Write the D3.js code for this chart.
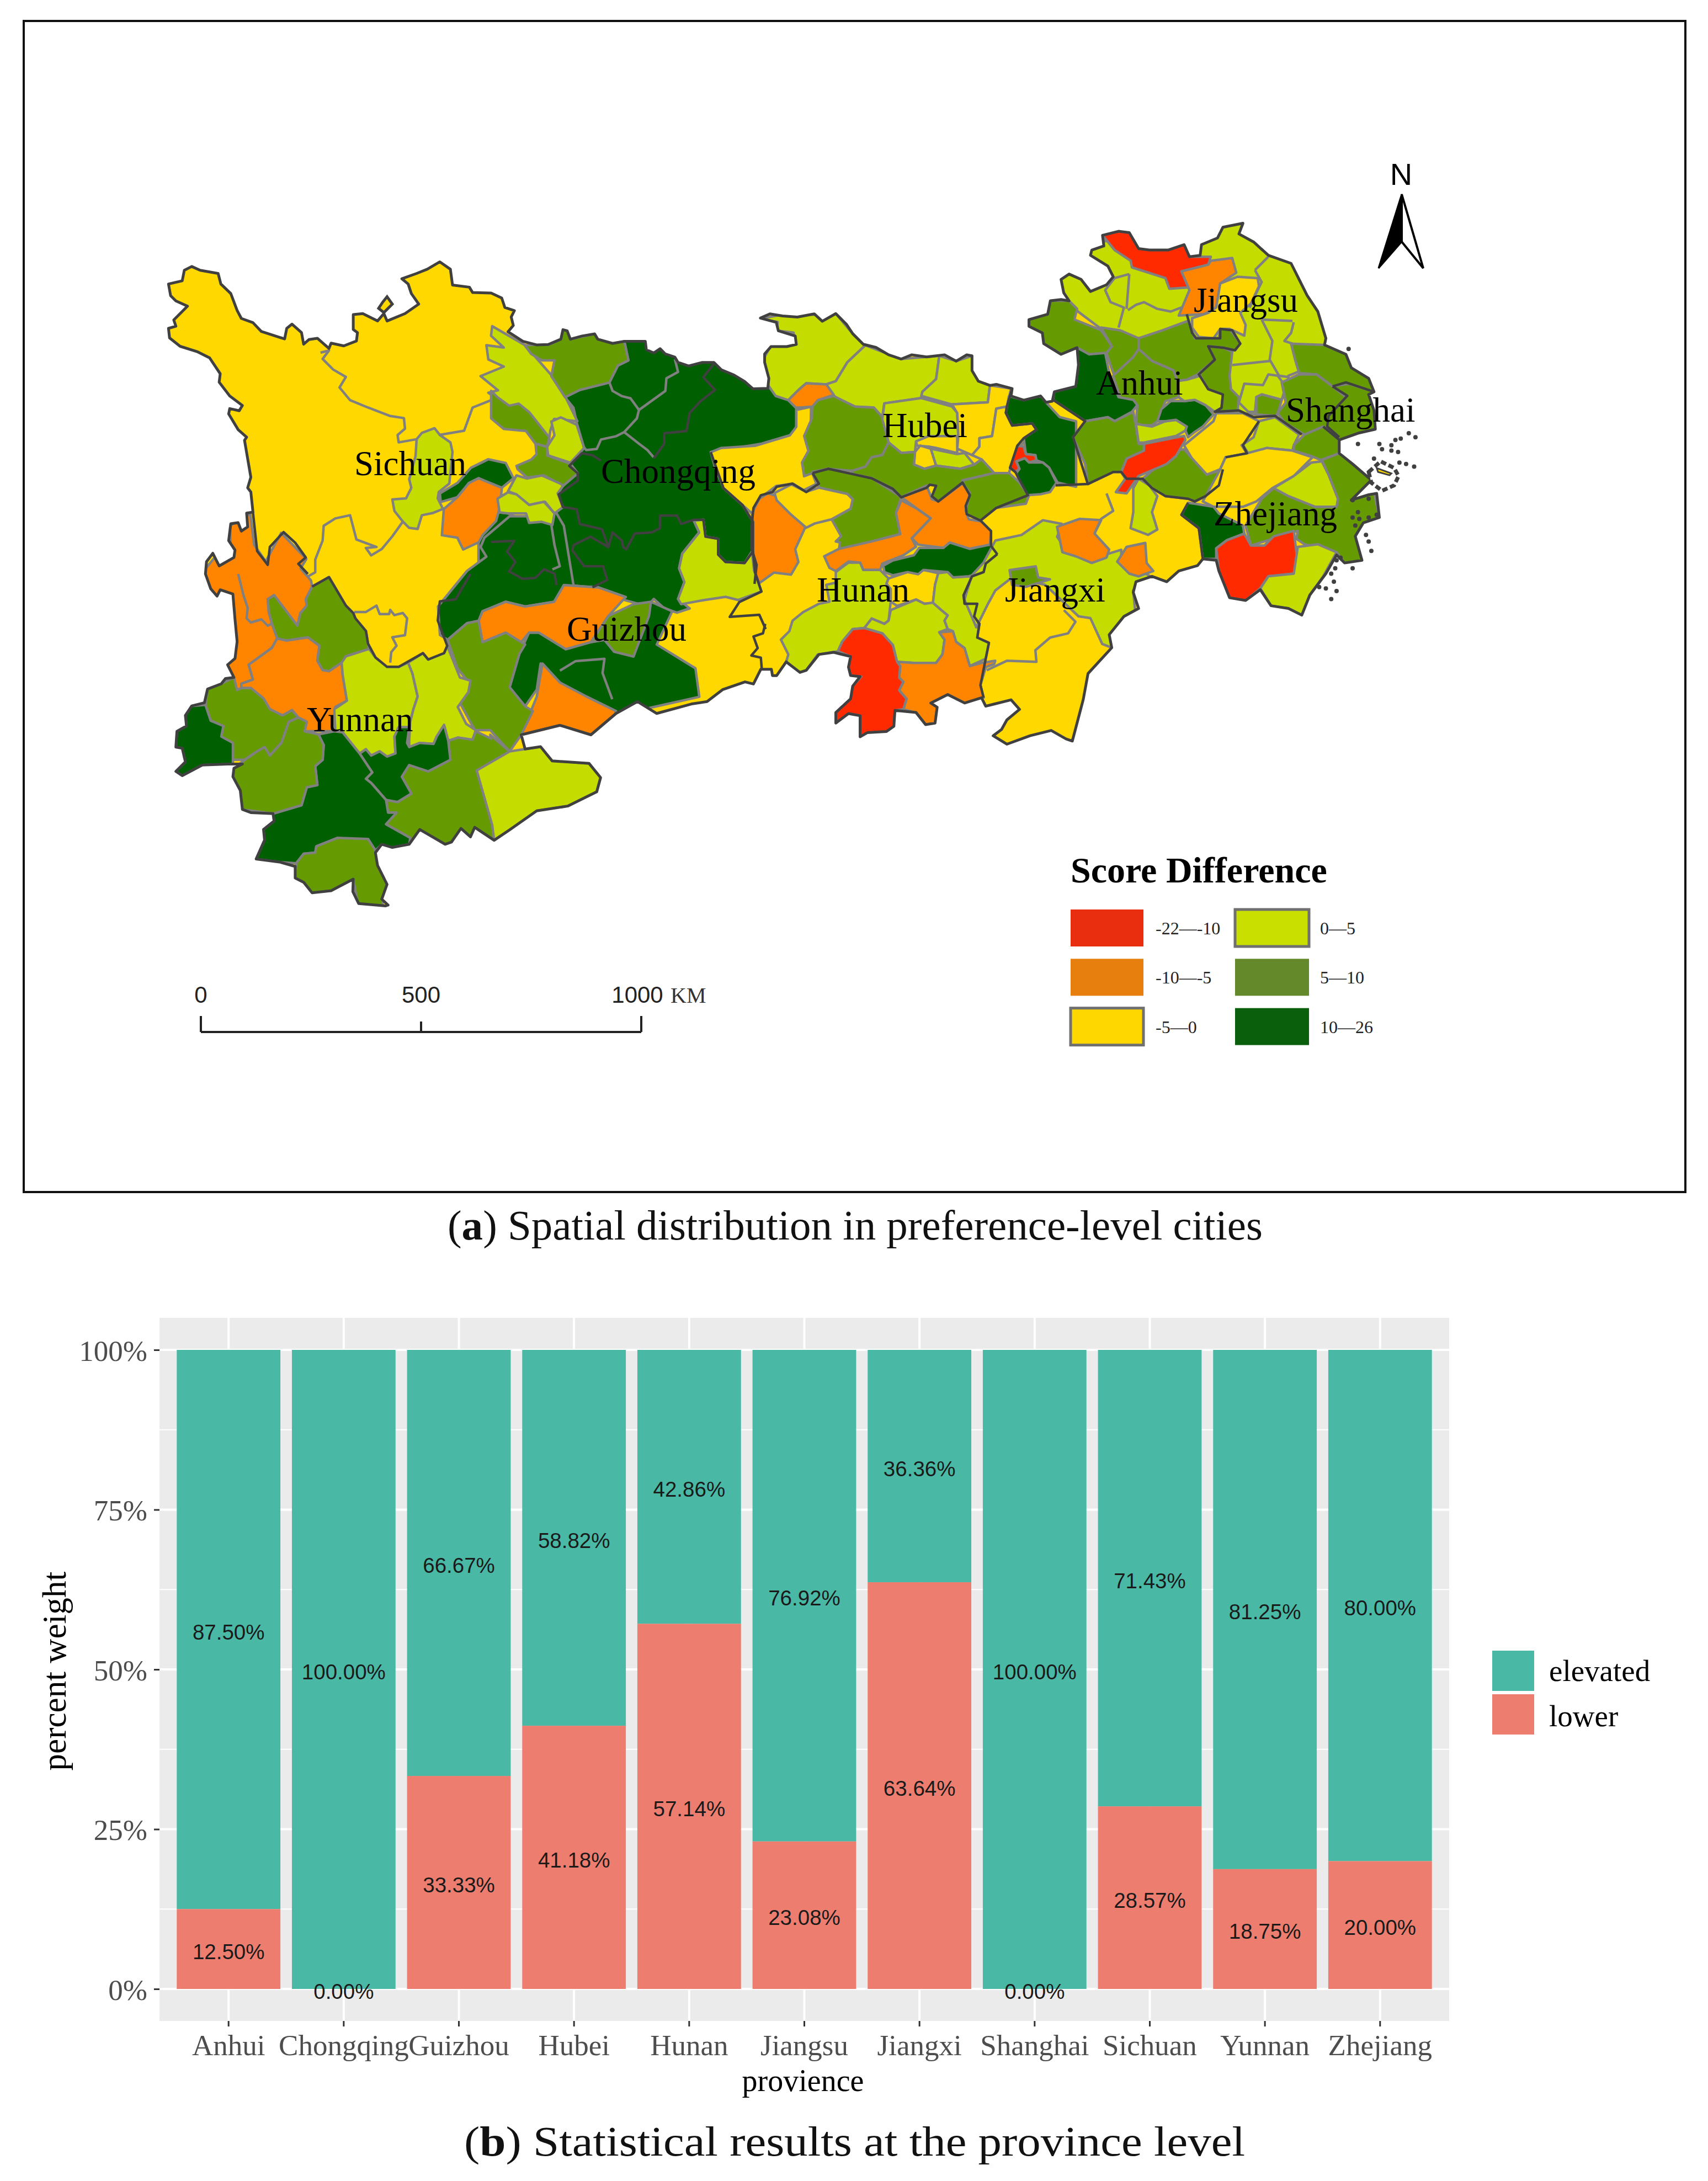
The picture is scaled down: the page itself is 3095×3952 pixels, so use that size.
<!DOCTYPE html>
<html><head><meta charset="utf-8"><title>Score difference</title>
<script src="https://cdn.jsdelivr.net/npm/d3@7/dist/d3.min.js"></script>
<style>html,body{margin:0;padding:0;background:#fff}svg{display:block}text{font-family:"Liberation Serif",serif}</style></head><body>
<script>
// ---------- bar chart data ----------
const provinces=["Anhui","Chongqing","Guizhou","Hubei","Hunan","Jiangsu","Jiangxi","Shanghai","Sichuan","Yunnan","Zhejiang"];
const lowerPct=[12.50,0.00,33.33,41.18,57.14,23.08,63.64,0.00,28.57,18.75,20.00];
const elevatedPct=[87.50,100.00,66.67,58.82,42.86,76.92,36.36,100.00,71.43,81.25,80.00];
const yTicks=[0,25,50,75,100];
const yMinor=[12.5,37.5,62.5,87.5];
const barLegend=["elevated","lower"];
// ---------- map legend / labels ----------
const classKeys=["r","o","y","l","g","d"];
const mapFills=["#FF2A00","#FF8500","#FFD800","#C5DC00","#659B00","#005F00"];
const legendFills=["#E92D0F","#E67F0E","#FFD700","#C8DF00","#63892B","#0A5F0C"];
const legendLabels=["-22—-10","-10—-5","-5—0","0—5","5—10","10—26"];
const scaleKm=[0,500,1000];
const provinceLabels=[["Sichuan",642,861],["Chongqing",1089,875],["Guizhou",1027,1161],["Yunnan",556,1325],["Hubei",1599,792],["Hunan",1480,1090],["Jiangxi",1821,1090],["Jiangsu",2163,565],["Anhui",1986,715],["Shanghai",2330,764],["Zhejiang",2199,952]];
// ---------- map geometry: each path is made of [sheet,[x,y,...]] ----------
const sheets={A:[290,440,600,600],B:[290,1040,600,600],C:[890,540,600,600],D:[1350,530,600,600],E:[1350,830,600,600],F:[1850,390,760,760],G:[250,350,1100,1350],H:[1300,350,1350,1050]};
const outerBoundary=[
["A",[40,195,105,180,115,130,150,112,190,130,275,145,288,195,335,240,365,320,385,358,440,378,480,420,590,455,600,405,625,385,670,425,680,480,705,458,745,452,800,500,810,475,870,488,930,465,935,425,915,410,915,340,960,335,1030,370,1060,335,1075,370,1160,335,1225,290,1190,240,1175,195,1145,170,1215,145,1265,125,1325,90,1375,125,1385,200,1465,210,1480,235,1568,238]],
["C",[50,0,65,45,110,60,95,90,105,130,80,160,150,205,215,222,270,220,330,195,340,150,360,155,375,195,430,180,490,170,505,195,575,215,630,205,730,205,735,245,770,260,800,240,825,265,870,280,885,305,935,322,1000,305,1055,305,1090,340,1150,365,1200,395,1240,430,1310,428,1315,380,1295,305,1295,265,1325,230,1400,230,1445,220,1440,180,1360,155,1350,115,1275,95,1320,75,1380,85,1450,90,1530,75,1568,110]],
["D",[430,100,480,150,510,195,560,245,620,260,680,295,740,315,790,295,860,305,945,295,1000,325,1050,295,1075,300,1075,370,1105,420,1160,440,1190,435,1265,455,1260,490,1320,510,1400,490,1425,520,1455,515]],
["F",[125,660,205,640,215,560,210,495,150,520,85,480,80,440,30,415,30,390,100,370,110,320,150,315,180,320,160,290,150,240,180,220,225,240,260,285,320,260,345,230,325,190,260,150,265,130,310,115,305,75,365,60,405,65,440,125,480,130,550,130,610,110,630,155,670,150,675,110,735,85,755,45,830,30,815,70,870,100,925,150,1010,180,1070,300,1110,360,1140,460,1135,485,1215,520,1235,570,1300,610,1320,660,1300,670,1320,730,1325,800,1260,815,1190,840,1190,890,1240,930,1310,990,1235,1065,1300,1045,1330,1040,1340,1130,1280,1150,1250,1200,1275,1290,1210,1300,1180,1270,1140,1340,1080,1420,1050,1495,1000,1470,935,1460,895,1400,840,1440,780,1430,740,1330,730,1290,680,1285,660,1310,590,1330,545,1370,490,1350,430,1370,420,1410,440,1470,385,1500,330,1568]],
["H",[830,1230,780,1300,770,1370]],
["E",[1550,1340,1520,1330,1450,1290,1350,1315,1240,1355,1175,1315,1215,1285,1240,1240,1300,1190,1260,1145,1180,1165,1140,1175,1120,1135,1040,1160,960,1120,880,1160,910,1180,900,1255,855,1262,810,1205,710,1195,705,1270,670,1295,580,1300,545,1320,545,1220,490,1210,430,1255,430,1205,500,1140,510,1080,545,1035,500,1030,490,990,500,940,420,920,350,930,290,1005,260,1015,195,965,150,1030,130,1030,125,1000,75,1000,40,1070,0,1060]],
["G",[1510,1045,1470,1070,1430,1075,1340,1095,1290,1070,1235,1095,1170,1140,1090,1120,990,1140,1000,1170,1040,1165,1070,1195,1165,1200,1195,1230,1185,1260,1110,1290,1030,1300,960,1340,920,1362]],
["B",[1490,1200,1470,1245,1425,1205,1380,1270,1350,1280,1230,1210,1180,1280,1100,1295,1050,1280,1020,1320,1030,1380,1075,1470,1050,1540,1080,1568]],
["G",[640,1500,570,1495,555,1470]],
["B",[915,1445,810,1500,720,1510,680,1460,640,1440,640,1385,570,1365,455,1350,495,1260,490,1210,540,1170,535,1135,430,1130,390,1115,380,1025,345,960,350,920,390,900,320,900,200,905,105,955,75,935,120,890,105,825,75,820,80,745,125,720,120,670,150,625,210,610,225,545,290,520,310,495,350,490,320,430,355,400,365,320,355,215,345,95,285,75,270,105,240,70,215,0]],
["A",[220,1510,250,1470,280,1530,350,1490,355,1455,325,1410,335,1330,370,1325,385,1365,415,1345,410,1280,440,1275,430,1180,415,1160,430,1110,400,935,410,920,370,885,325,810,330,785,375,795,390,770,330,725,280,660,285,620,235,545,175,515,95,490,45,450,40,405,75,395,65,365,130,300,75,275,50,250]]
];
const sichuanIsland=[["A",[1035,310,1055,280,1075,255,1100,290,1060,330]]];
const mapRegions=[
["d",[["C",[630,200,800,200,1060,290,1310,420,1445,500,1445,620,1415,650,1280,690,1040,730,1060,800,1100,900,1190,980,1240,1060,1240,1200,1200,1255,1110,1250,1075,1215,1070,1140,1015,1130,1005,1050,960,1055,985,1110,905,1210,890,1280,915,1345,885,1425,940,1470,880,1490,820,1470,770,1425,740,1460,630,1430,470,1370,330,1355,300,1420,210,1460,50,1465,0,1430,-60,1300,-60,1000,40,1015,80,1020,180,1065,290,1075,300,1020,340,990,315,925,340,890,410,830,375,785,440,710,405,590,390,520,350,470,420,435,560,400,600,320,650,295]]]],
["d",[["G",[885,745,895,725,960,680,1015,680,1075,665,1100,700,1130,850,1260,850,1190,830,1100,825,1075,860,1000,870,950,860,890,880,880,900,850,905,800,940,780,930,775,870,850,795,900,765]]]],
["y",[["C",[1040,730,1090,710,1250,700,1415,650,1445,610,1445,530,1515,515,1510,800,1540,880,1480,910,1430,880,1350,890,1310,920,1270,950,1235,1020,1190,980,1100,900,1060,800]]]],
["l",[["A",[1215,930,1240,900,1300,878,1325,910,1375,945,1385,990,1370,1140,1320,1180,1315,1210,1340,1260,1290,1280,1240,1290,1220,1355,1180,1350,1150,1320,1110,1270,1100,1215,1165,1210,1190,1160,1180,1120,1210,1010]]]],
["d",[["G",[970,600,950,568,905,560,860,578,825,610,780,632,782,650,825,640,855,610,880,600,925,620,940,620]]]],
["o",[["G",[940,620,880,600,855,610,825,640,790,665,785,720,825,725,840,750,880,735,890,720,925,690,935,660]]]],
["l",[["G",[915,280,1000,320,1070,385,1105,430,1135,480,1075,475,1065,500,1060,530,1020,510,990,460,940,440,905,420,930,415,885,385,945,365,905,350,900,320,945,325,912,300]]]],
["l",[["C",[330,565,405,600,440,710,375,780,270,745,265,705,300,650,285,585]]]],
["g",[["C",[0,440,30,470,85,510,130,500,180,540,275,660,265,705,210,690,165,630,60,620,0,570]]]],
["g",[["C",[210,690,265,705,265,745,375,785,410,830,340,890,250,840,170,850,125,810,120,795,190,765,215,740]]]],
["l",[["C",[120,840,170,855,240,840,330,880,340,890,315,925,340,990,300,1020,255,965,180,980,120,930,80,915]]]],
["l",[["C",[30,950,80,920,120,930,180,980,250,965,300,1020,290,1075,240,1060,180,1065,165,1020,80,1020,40,1015]]]],
["g",[["C",[160,225,215,220,275,220,330,195,340,150,360,155,375,195,490,170,505,195,630,205,650,295,600,320,560,400,420,435,350,470,285,370,300,295,240,295,190,265]]]],
["l",[["C",[960,1055,1005,1050,1015,1130,1075,1140,1075,1215,1110,1250,1200,1255,1235,1200,1245,1290,1280,1390,1170,1430,1110,1415,1010,1430,900,1450,885,1425,915,1345,890,1280,905,1210,985,1110]]]],
["o",[["C",[1235,1020,1270,950,1310,925,1345,935,1370,970,1440,1030,1490,1080,1440,1190,1455,1250,1420,1310,1340,1300,1270,1350,1245,1290,1240,1200,1240,1060]]]],
["o",[["G",[880,900,890,945,950,925,990,945,1010,925,1035,925,1105,960,1170,945,1215,890,1260,850,1190,830,1100,825,1075,860,1000,870,950,860,890,880]]]],
["d",[["G",[1010,925,1035,925,1105,960,1170,945,1205,940,1230,965,1280,975,1325,860,1380,880,1340,950,1440,1000,1450,1060,1230,1100,1170,1140,1040,990,1030,1045,1000,1080,960,1040,985,970]]]],
["g",[["G",[1215,890,1280,865,1325,860,1320,890,1280,975,1230,965,1205,940,1170,945]]]],
["o",[["G",[1045,990,1090,1030,1160,1060,1235,1090,1230,1100,1170,1140,1090,1120,990,1140,1030,1060]]]],
["g",[["G",[800,940,850,905,880,900,890,945,950,925,990,945,1000,950,985,970,960,1040,1000,1080,1020,1090,990,1140,960,1175,910,1130,870,1130,830,1070,855,1030,825,1000]]]],
["o",[["G",[175,790,205,760,240,770,238,700,290,675,300,740,330,775,370,715,435,770,420,790,447,815]],["B",[720,60,690,120,695,150,665,185,650,245,540,100,510,120,515,180,530,235,555,305,530,350,420,430,440,500,385,520,390,550,365,550,300,550,200,100]]]],
["o",[["B",[555,305,600,315,700,300,755,340,745,410,770,455,800,460,860,420,865,480,885,600,830,630,825,745,685,745,695,700,655,680,625,645,580,670,520,640,490,590,430,540,385,540,385,520,440,500,420,430,530,350]]]],
["g",[["B",[720,60,800,15,880,150,915,185,925,210,975,270,985,330,990,355,880,390,860,420,800,460,770,455,745,410,755,340,700,300,600,315,555,305,530,235,515,180,510,120,540,100,650,245,665,185,695,150,690,120]]]],
["l",[["B",[860,420,880,390,990,355,1020,395,1075,440,1130,440,1175,420,1195,470,1220,580,1200,640,1185,700,1180,790,1110,770,1115,850,1075,865,1040,840,1000,860,975,830,945,850,890,790,865,750,830,745,825,640,885,600,865,480]]]],
["l",[["B",[1175,420,1245,375,1270,405,1345,375,1360,340,1420,490,1470,505,1460,560,1410,630,1450,710,1495,740,1480,785,1410,775,1365,790,1345,715,1310,770,1295,805,1230,800,1180,820,1180,790,1185,700,1200,640,1220,580,1195,470]]]],
["g",[["B",[1125,1080,1190,1040,1145,960,1180,905,1270,935,1375,880,1365,790,1410,775,1480,785,1495,745,1568,780]],["G",[910,1140,960,1175,875,1215,915,1330,925,1380,780,1400,650,1380]],["B",[1185,1250,1070,1185,1120,1130,1080,1130,1070,1070]]]],
["d",[["B",[945,850,975,830,1000,860,1040,840,1075,865,1115,850,1110,770,1130,725,1180,725,1170,800,1180,820,1230,800,1295,805,1310,770,1345,715,1365,790,1375,880,1270,935,1180,905,1145,960,1190,1040,1125,1080,1070,1070,1000,990,975,970,1005,940]]]],
["d",[["B",[750,760,825,745,865,750,945,850,1005,940,975,970,1000,990,1070,1070,1080,1130,1120,1130,1070,1185,1185,1250,1180,1280,1100,1295,1050,1280,1020,1310,985,1255,880,1255,840,1250,740,1290,735,1320,680,1325,645,1370,570,1365,455,1350,495,1260,490,1210,540,1170,535,1135,670,1095,695,1010,745,1000,735,910,770,880,775,810]]]],
["g",[["B",[645,1370,680,1325,735,1320,740,1290,840,1250,985,1255,1020,1310,1030,1380,1075,1470,1050,1580,940,1580,915,1445,810,1500,720,1510,680,1460,640,1440]]]],
["l",[["G",[875,1215,960,1175,1000,1170,1040,1165,1070,1195,1165,1200,1195,1230,1185,1260,1110,1290,1030,1300,960,1340,920,1362,915,1330]]]],
["g",[["B",[225,545,290,520,350,490,365,550,385,540,430,540,490,590,520,640,580,670,625,645,655,680,610,700,575,800,520,860,495,820,460,840,400,880,345,880,345,800,290,770,300,720,240,695,215,620]]]],
["g",[["B",[395,885,460,840,495,820,520,860,575,800,610,700,655,680,695,700,685,745,750,760,775,810,770,880,735,910,745,1000,695,1010,670,1095,535,1135,390,1115,380,1025,345,960,350,920]]]],
["d",[["B",[75,820,80,745,125,720,120,670,150,625,215,620,240,695,300,720,290,770,345,800,345,900,200,905,105,955,75,935,120,890,105,825]]]],
["l",[["D",[70,125,170,105,330,105,430,100,510,195,570,250,485,330,430,420,385,435,290,430,255,460,205,510,145,490,110,440,85,320,120,255,240,245,230,190,150,180,155,140]]]],
["l",[["D",[570,250,740,315,920,300,905,410,840,470,835,500,660,525,650,590,610,545,520,540,430,500,385,435,430,420,485,330]]]],
["l",[["D",[920,300,1000,325,1075,300,1105,420,1160,440,1150,520,980,530,835,490,840,470,905,410]]]],
["o",[["D",[205,510,255,460,290,430,385,435,420,485,345,510,320,540,260,545,240,545]]]],
["g",[["D",[345,510,420,490,520,540,610,545,650,590,680,710,650,770,600,780,570,825,510,845,395,835,320,855,280,870,270,805,300,750,280,680,315,600,320,540]]]],
["l",[["D",[660,525,835,500,980,540,1005,570,1010,680,870,680,810,705,805,755,740,760,680,710,650,600]]]],
["y",[["D",[980,530,1150,520,1160,440,1260,455,1240,540,1190,550,1170,680,1110,690,1110,730,1075,770,1005,740,1010,680,1005,570]]]],
["y",[["D",[1190,550,1240,540,1240,580,1265,630,1360,620,1380,650,1310,720,1260,820,1250,855,1180,855,1120,790,1075,770,1110,730,1110,690,1170,680]]]],
["y",[["D",[810,705,870,680,1005,680,1005,760,900,735,870,730,815,725]]]],
["y",[["D",[805,755,830,725,880,740,905,820,850,835,800,815]]]],
["l",[["D",[880,740,1005,765,1040,760,1085,815,1020,835,905,820]]]],
["g",[["D",[505,845,570,825,600,780,650,770,680,710,740,760,805,755,800,815,850,835,905,820,1020,835,1085,815,1120,790,1180,855,1030,890,1030,900,915,990,885,965,905,915,875,910,860,925,740,970,700,930,600,880,510,860]]]],
["g",[["D",[1030,890,1180,855,1250,855,1300,900,1345,960,1330,1000,1190,1020,1115,1080,1050,1050,1045,1010,1065,960,1040,930]]]],
["d",[["D",[1250,490,1320,510,1400,490,1425,520,1490,590,1568,610,1568,920,1480,900,1440,830,1410,805,1380,795,1375,770,1330,765,1320,690,1380,650,1360,620,1265,630,1235,570]]]],
["r",[["D",[1290,725,1320,730,1330,765,1375,770,1380,795,1345,805,1325,785,1285,800,1300,835,1280,850,1255,830]]]],
["d",[["D",[1285,855,1300,835,1285,800,1325,785,1345,805,1410,805,1440,830,1475,900,1445,945,1400,955,1340,960,1300,900]]]],
["g",[["E",[320,65,395,50,510,75,600,95,740,185,715,260,730,310,735,360,600,395,445,430,450,400,430,395,455,370,410,290,500,240,510,195,485,170,350,140]]]],
["y",[["E",[140,165,220,125,290,160,350,140,485,170,510,195,500,240,410,290,330,310,290,330,215,265,150,200]]]],
["o",[["E",[740,200,815,240,880,285,790,380,810,420,750,460,650,500,640,530,560,530,545,495,490,490,430,535,400,520,375,465,445,430,600,395,735,360,715,260]]]],
["o",[["E",[740,185,860,130,885,195,915,205,1030,120,1065,165,1045,250,1060,290,1120,300,1165,345,1160,410,1065,430,970,400,940,425,820,410,790,380,880,285,815,240]]]],
["l",[["E",[170,860,210,820,225,770,275,730,350,690,400,680,385,600,430,590,430,540,490,495,545,495,560,530,640,530,680,570,670,595,690,680,680,770,660,785,600,760,565,805,510,810,460,870,440,915,345,930,290,1005,260,1015,195,965,205,930]]]],
["y",[["E",[670,595,680,570,770,540,845,530,915,545,900,600,890,685,850,690,810,670,720,700,690,680,690,620]]]],
["l",[["E",[680,770,690,720,810,670,850,690,890,685,930,720,960,745,945,770,960,810,920,825,945,860,935,930,905,970,800,970,720,965,700,885,650,830,565,805,600,760,660,785]]]],
["o",[["E",[720,965,800,970,905,970,935,930,945,860,920,825,985,820,1000,870,1040,900,1065,985,1120,970,1185,960,1180,975,1140,990,1115,1075,1130,1135,1040,1160,960,1120,880,1160,910,1180,900,1255,855,1262,810,1205,750,1190,765,1140,730,1100,750,1060,730,1040,735,985]]]],
["r",[["E",[510,810,565,805,650,830,700,885,720,965,735,985,730,1040,750,1060,730,1100,765,1140,750,1190,710,1195,705,1270,670,1295,580,1300,545,1320,545,1220,490,1210,430,1255,430,1205,500,1140,510,1080,550,1035,500,1030,490,990,500,940,440,915,460,870]]]],
["l",[["E",[915,545,960,540,985,565,1075,560,1035,650,1040,690,1100,690,1085,750,1110,785,1100,850,1155,875,1140,950,1065,985,1040,900,1000,870,985,820,960,810,945,770,960,745,930,720,890,685,900,600]]]],
["d",[["E",[655,510,700,485,800,460,825,425,940,425,970,400,1065,430,1160,410,1195,455,1140,500,1130,540,1060,560,985,565,960,540,845,530,820,550,770,540,700,555,660,540]]]],
["l",[["H",[535,1035,560,1000,585,940,640,925,685,885,725,895,715,930,740,975,825,975,850,965,850,990,915,1040,875,1075,880,1140,830,1230,810,1220,785,1150,760,1145,690,1060,620,1040,585,1075,570,1110,545,1175,520,1100]]]],
["g",[["H",[615,1020,670,1010,675,1040,700,1045,650,1065,620,1060]]]],
["o",[["F",[135,1165,220,1135,300,1140,275,1190,330,1250,320,1280,265,1300,205,1275,155,1260]]]],
["o",[["F",[360,1295,395,1240,465,1225,470,1300,495,1330,440,1350,405,1340]]]],
["l",[["F",[440,985,480,1010,510,1050,490,1110,510,1175,475,1195,410,1170,420,1110,420,1020]]]],
["l",[["F",[100,200,300,100,840,0,1200,100,1300,480,1000,600,1000,620,975,690,880,680,880,745,730,735,400,500,200,350]]]],
["g",[["F",[30,390,100,370,110,320,180,320,210,350,200,390,300,430,340,490,320,515,255,520,210,495,150,520,85,480,80,440,30,415]]]],
["g",[["F",[300,420,370,430,440,460,450,490,420,530,410,600,365,620,345,590,320,515,340,490]]]],
["g",[["F",[440,460,530,430,625,395,650,460,740,460,745,425,780,425,820,480,800,505,755,495,700,490,725,540,670,590,620,615,585,620,570,580,490,545,440,500]]]],
["g",[["F",[420,530,440,500,490,545,570,580,585,620,590,680,540,695,510,770,490,785,430,785,435,710,370,680,345,600]]]],
["d",[["F",[210,495,255,520,315,515,330,590,365,680,420,690,435,710,415,735,350,770,325,755,240,770,120,690,125,660,205,640,215,560]]]],
["g",[["F",[240,770,325,755,350,770,420,735,430,790,440,855,460,855,460,880,395,910,375,960,345,960,250,1005,240,930,195,830]]]],
["l",[["F",[430,780,490,790,540,770,580,765,620,790,615,805,580,825,460,850,440,850]]]],
["d",[["F",[510,770,525,725,560,695,610,695,650,690,690,710,720,745,680,790,650,810,625,830,615,805,620,790,580,765,540,770]]]],
["l",[["F",[585,620,620,615,670,600,700,650,755,670,750,720,725,735,690,710,650,690,610,695,590,680]]]],
["g",[["F",[665,590,725,540,700,490,755,495,790,510,780,600,785,650,815,680,810,730,725,735,750,720,755,670,700,650]]]],
["l",[["F",[815,700,835,630,905,635,925,595,960,600,990,640,975,690,900,670,880,680,875,735,850,735]]]],
["g",[["F",[880,680,900,670,975,690,965,725,955,750,880,745]]]],
["g",[["F",[1010,480,1135,485,1215,520,1235,570,1300,610,1320,660,1225,630,1165,640,1105,595,1040,590,1025,540]]]],
["g",[["F",[975,625,1040,595,1105,595,1165,640,1220,670,1225,690,1150,750,1145,790,1190,830,1130,790,1060,820,985,775,960,740,990,700]]]],
["g",[["F",[1165,640,1225,630,1320,660,1325,800,1260,815,1190,840,1145,790,1150,750,1215,680]]]],
["g",[["F",[1020,860,1060,820,1130,790,1190,840,1190,890,1120,915,1085,900,1020,880]]]],
["l",[["F",[830,860,890,770,950,755,1040,820,1020,860,1015,880,920,870,850,890]]]],
["y",[["F",[610,860,720,770,730,740,830,740,890,770,870,830,825,860,845,890,765,905,745,950,695,970,640,910]]]],
["g",[["F",[455,985,580,880,610,875,640,910,695,970,755,950,740,1010,690,1050,650,1070,625,1060,540,1050,490,1020]]]],
["y",[["F",[680,1070,745,950,765,905,845,890,920,870,1015,880,1090,905,1020,975,940,1020,880,1070,830,1090,720,1090]]]],
["g",[["F",[1125,915,1190,890,1240,930,1310,990,1340,1130,1280,1290,1210,1300,1180,1260,1060,1230,1030,1210,1035,1180,860,1235,840,1160,900,1060,945,1020,1000,1050,1100,1090,1180,1090,1185,1060,1150,970]]]],
["l",[["F",[945,1020,1020,975,1085,925,1125,920,1150,970,1185,1060,1180,1090,1100,1090,1000,1050]]]],
["d",[["F",[625,1075,660,1080,720,1090,740,1115,830,1160,835,1190,770,1215,730,1245,730,1285,680,1285,665,1170,600,1120]]]],
["r",[["F",[730,1245,770,1215,835,1190,860,1235,910,1235,945,1200,1020,1180,1035,1300,1020,1340,925,1350,895,1395,840,1440,780,1430,750,1370,740,1330]]]],
["l",[["F",[895,1395,925,1350,1020,1340,1035,1240,1110,1230,1180,1260,1130,1350,1080,1420,1050,1495,1000,1470,935,1460]]]],
["r",[["F",[460,855,610,825,615,840,580,900,545,930,440,975,395,1040,355,1035,390,985,375,960,395,910,460,880]]]],
["r",[["F",[305,75,365,60,405,65,440,125,480,130,550,130,610,110,630,155,710,155,700,185,600,210,630,270,555,275,540,235,415,195,410,170,350,130]]]],
["o",[["F",[600,210,700,185,710,170,790,160,805,215,745,255,730,345,685,370,590,375,630,280]]]],
["y",[["F",[745,255,810,230,885,235,890,265,860,330,820,365,840,410,835,450,780,425,745,425,720,460,665,455,640,420,640,385,700,365,730,345]]]]
];
const grayLines=[
["A",[760,520,800,510,770,550,820,600,880,635,850,685,900,745,985,780,1090,820,1155,830,1160,880,1125,910,1130,945,1215,930]],
["A",[1150,1320,1100,1390,1050,1450,1000,1480,975,1445,1025,1440,930,1405,900,1290,830,1305,775,1340,770,1410,735,1500,735,1560,700,1580]],
["A",[1320,910,1440,890,1480,780,1568,745]],
["B",[920,180,975,180,1025,150,1040,190,1085,190,1090,170,1110,195,1150,185,1170,210,1160,290,1100,300,1120,340,1095,370,1090,420]],
["B",[370,0,395,100,415,160,410,210,430,230,480,215,510,245,530,235]],
["C",[870,290,885,350,830,380,825,440,700,530,660,475,620,465,575,440,560,400]],
["C",[700,530,690,570,630,635,590,655,520,670,500,715,450,720,435,700]],
["C",[630,635,700,690,740,720,770,755]],
["C",[285,1075,300,1170,325,1270,290,1285]],
["G",[1090,1005,1130,985,1205,980,1200,1010,1225,1065]],
["E",[1145,1005,1240,960,1380,965,1375,910,1445,850,1530,830,1565,775,1510,720]],
["F",[320,1040,345,1105,300,1135,275,1190]],
["F",[405,220,350,235,315,280,335,325,385,345,365,420]],
["F",[405,220,395,350]],
["F",[400,355,430,335,460,325,510,350,560,360,600,345]],
["F",[875,205,925,155]],
["F",[875,205,900,250,885,280,855,345]],
["F",[900,390,940,470,930,540,965,600,1000,605]],
["F",[1015,395,900,390]],
["F",[1020,400,1010,440,985,470,1015,480]],
["F",[790,560,930,545]]
];
const provinceLines=[
["A",[440,1275,460,1460,510,1525,520,1440,585,1370,640,1420,690,1490,655,1520,700,1568]],
["B",[720,60,800,15,880,150,915,185,925,210,975,270,985,330,1020,395,1075,440,1130,440,1245,375,1270,405,1345,375,1360,340,1315,220,1325,130,1400,120,1470,0]],
["C",[1060,305,1005,375,1060,435,990,490,940,545,925,630,820,640,820,690,770,760]],
["C",[520,770,480,745,430,735,370,795,410,830,410,865,320,930,340,990,405,1000,420,1070,525,1095,555,1180,575,1110,620,1150,625,1180,640,1190,680,1115,760,1110,800,1090,800,1030,880,1030,900,1070,960,1050,1005,1050,1015,1130,1075,1140,1075,1215,1110,1250,1200,1255,1240,1200,1240,1060,1190,980,1100,900,1040,730]],
["C",[1240,1200,1250,1300,1280,1390,1175,1440,1130,1510,1270,1500,1300,1568]],
["E",[96,785,85,830,40,845,60,900,30,935,75,945,80,1005]],
["C",[0,1155,110,1150,75,1200,115,1250,85,1295,150,1330,210,1325,250,1285,300,1305,310,1360]],
["C",[555,1180,470,1130,390,1170,385,1195,440,1270,530,1270,550,1335,480,1370]],
["D",[320,855,395,835,510,860,600,880,700,930,740,970,860,925,875,910,905,915,885,965,915,990,1030,900,1065,960,1045,1010,1050,1050,1115,1080,1165,1130,1165,1200,1195,1240]],
["D",[320,855,350,905,290,945,225,905,150,920,130,945,75,960,40,1020,30,1120,30,1210,55,1290,45,1380]],
["E",[1195,455,1140,500,1130,540,1075,560,1035,650,1040,690,1100,690,1085,750,1110,785,1100,850,1155,875,1140,950,1115,1075,1130,1135]],
["D",[1265,455,1240,540,1235,570,1265,630,1360,620,1380,650,1320,690,1290,725,1255,830,1280,850,1340,960,1190,1020,1115,1080]],
["F",[130,1010,250,1005,345,960,375,960,395,985,455,985,490,1020,540,1050,625,1060,650,1070,690,1050,740,1010,755,950]],
["F",[625,1075,600,1120,665,1170,680,1285]],
["F",[120,690,240,770,195,830,250,1005]],
["F",[620,370,640,440,655,460,745,460,745,425,790,430,820,480,800,505,755,495,700,490,725,540,665,595,700,650,755,670,750,720,725,735,815,730,870,755,950,750,1050,820]],
["F",[1130,790,1190,840]],
["F",[765,905,845,890,830,860,890,770]],
["F",[1165,640,1215,625,1320,660]],
["F",[1165,640,1220,675,1150,750,1145,790,1190,830]]
];
const zhoushanOuter=[["F",[1300,960,1345,920,1395,945,1412,975,1395,1010,1350,1030,1310,1000]]];
const zhoushanInner=[["F",[1330,945,1385,965,1378,972,1335,960]]];
const islandDots=[[1340,855],[1350,875],[1385,860],[1400,840],[1420,835],[1450,815],[1475,830],[1260,855],[1385,880],[1410,885],[1320,910],[1415,925],[1440,930],[1470,940],[1240,1065],[1260,1110],[1300,1060],[1290,1195],[1300,1220],[1310,1255],[1240,1320],[1180,1290],[1160,1340],[1170,1370],[1115,1390],[1140,1395],[1180,1405],[1160,1435],[1225,500],[1240,1130],[1250,1160],[1195,1280],[1175,1320],[1265,1135],[1300,1130],[1330,1120]];

// ---------- drawing ----------
const svg=d3.select("body").append("svg").attr("width",3095).attr("height",3952).attr("viewBox","0 0 3095 3952");
svg.append("rect").attr("width",3095).attr("height",3952).attr("fill","#fff");
svg.append("rect").attr("x",43).attr("y",38).attr("width",3011).attr("height",2122).attr("fill","#fff").attr("stroke","#111").attr("stroke-width",4);

const fillOf=d3.scaleOrdinal(classKeys,mapFills);
const sx={},sy={};
Object.entries(sheets).forEach(([k,[x,y,w,h]])=>{sx[k]=d3.scaleLinear([0,1568],[x,x+w]);sy[k]=d3.scaleLinear([0,1568],[y,y+h]);});
const toPts=segs=>segs.flatMap(([k,a])=>d3.range(0,a.length,2).map(i=>[sx[k](a[i]),sy[k](a[i+1])]));
const line=d3.line();
const ring=segs=>line(toPts(segs))+"Z";

const map=svg.append("g").attr("fill-rule","nonzero");
map.append("clipPath").attr("id","outer").append("path").attr("d",ring(outerBoundary));
map.append("path").attr("d",ring(outerBoundary)).attr("fill",fillOf("y"));
map.append("path").attr("d",ring(sichuanIsland)).attr("fill",fillOf("y")).attr("stroke","#404040").attr("stroke-width",5);
const inner=map.append("g").attr("clip-path","url(#outer)").attr("stroke-linejoin","round");
inner.selectAll("path.region").data(mapRegions).join("path").attr("class","region")
  .attr("d",d=>ring(d[1])).attr("fill",d=>fillOf(d[0])).attr("stroke","#808080").attr("stroke-width",4.5);
inner.selectAll("path.gray").data(grayLines).join("path").attr("class","gray")
  .attr("d",d=>line(toPts([d]))).attr("fill","none").attr("stroke","#808080").attr("stroke-width",4.5);
inner.selectAll("path.prov").data(provinceLines).join("path").attr("class","prov")
  .attr("d",d=>line(toPts([d]))).attr("fill","none").attr("stroke","#404040").attr("stroke-width",4.5);
map.append("path").attr("d",ring(outerBoundary)).attr("fill","none").attr("stroke","#404040").attr("stroke-width",5).attr("stroke-linejoin","round");
map.append("path").attr("d",ring(zhoushanOuter)).attr("fill","#fff").attr("stroke","#404040").attr("stroke-width",7).attr("stroke-dasharray","10 5");
map.append("path").attr("d",ring(zhoushanInner)).attr("fill",fillOf("y")).attr("stroke","#404040").attr("stroke-width",3);
map.selectAll("circle").data(islandDots).join("circle").attr("cx",d=>sx.F(d[0])).attr("cy",d=>sy.F(d[1])).attr("r",4).attr("fill","#404040");

svg.append("g").selectAll("text").data(provinceLabels).join("text")
  .attr("x",d=>d[1]).attr("y",d=>d[2]).attr("font-size",63).attr("fill","#000").text(d=>d[0]);

// north arrow
svg.append("text").attr("x",2539).attr("y",335).attr("text-anchor","middle").attr("font-size",56).style("font-family","Liberation Sans").text("N");
const arrow=d3.line();
svg.append("path").attr("d",arrow([[2540,352],[2540,438],[2498,486]])+"Z").attr("fill","#000").attr("stroke","#000").attr("stroke-width",3);
svg.append("path").attr("d",arrow([[2540,352],[2540,438],[2579,486]])+"Z").attr("fill","#fff").attr("stroke","#000").attr("stroke-width",4);

// map legend
const lg=svg.append("g");
lg.append("text").attr("x",1940).attr("y",1599).attr("font-size",66).attr("font-weight","bold").text("Score Difference");
const legCol=d3.scaleOrdinal([0,1],[1940,2238]), legRow=d3.scaleBand([0,1,2],[1648,1916]);
legendLabels.forEach((t,i)=>{
  const c=Math.floor(i/3), r=i%3, y=legRow(r);
  lg.append("rect").attr("x",legCol(c)).attr("y",y).attr("width",c?134:132).attr("height",67).attr("fill",legendFills[i])
    .attr("stroke",(i==2||i==3)?"#707070":"none").attr("stroke-width",5);
  lg.append("text").attr("x",c?2392:2094).attr("y",y+45).attr("font-size",32).attr("fill","#222").text(t);
});

// scale bar
const km=d3.scaleLinear([0,1000],[364,1162]);
const sb=svg.append("g").attr("stroke","#222").attr("stroke-width",4);
sb.append("line").attr("x1",km(0)).attr("x2",km(1000)).attr("y1",1870).attr("y2",1870);
sb.selectAll("line.t").data(scaleKm).join("line").attr("class","t").attr("x1",d=>km(d)).attr("x2",d=>km(d)).attr("y1",d=>d==500?1851:1841).attr("y2",1870);
svg.append("g").selectAll("text").data(scaleKm).join("text").attr("x",d=>km(d)-(d==1000?7:0)).attr("y",1817).attr("text-anchor","middle")
  .attr("font-size",42).attr("fill","#222").style("font-family","Liberation Sans").text(d=>d);
svg.append("text").attr("x",1215).attr("y",1817).attr("font-size",40).attr("fill","#333").text("KM");

// captions
function caption(y,x0,x1,label,rest){
  const t=svg.append("text").attr("x",x0).attr("y",y).attr("font-size",76).attr("fill","#111").attr("textLength",x1-x0).attr("lengthAdjust","spacingAndGlyphs");
  t.append("tspan").text("(");t.append("tspan").attr("font-weight","bold").text(label);t.append("tspan").text(") "+rest);
}
caption(2246,811,2288,"a","Spatial distribution in preference-level cities");
caption(3906,841,2256,"b","Statistical results at the province level");

// bar chart
const P={l:289,r:2626,t:2388,b:3662};
const x=d3.scaleBand(provinces,[P.l,P.r]).paddingInner(0.1).paddingOuter(0.15);
const y=d3.scaleLinear([0,100],[3604,2446]);
const chart=svg.append("g");
chart.append("rect").attr("x",P.l).attr("y",P.t).attr("width",P.r-P.l).attr("height",P.b-P.t).attr("fill","#EBEBEB");
chart.selectAll("line.mn").data(yMinor).join("line").attr("class","mn").attr("x1",P.l).attr("x2",P.r).attr("y1",y).attr("y2",y).attr("stroke","#fff").attr("stroke-width",2);
chart.selectAll("line.mj").data(yTicks).join("line").attr("class","mj").attr("x1",P.l).attr("x2",P.r).attr("y1",y).attr("y2",y).attr("stroke","#fff").attr("stroke-width",4);
chart.selectAll("line.vg").data(provinces).join("line").attr("class","vg").attr("x1",d=>x(d)+x.bandwidth()/2).attr("x2",d=>x(d)+x.bandwidth()/2).attr("y1",P.t).attr("y2",P.b).attr("stroke","#fff").attr("stroke-width",4);
const teal="#49B9A6",salmon="#EC7D6F";
chart.selectAll("rect.el").data(provinces).join("rect").attr("class","el").attr("x",d=>x(d)).attr("width",x.bandwidth())
  .attr("y",y(100)).attr("height",(d,i)=>y(lowerPct[i])-y(100)).attr("fill",teal);
chart.selectAll("rect.lo").data(provinces).join("rect").attr("class","lo").attr("x",d=>x(d)).attr("width",x.bandwidth())
  .attr("y",(d,i)=>y(lowerPct[i])).attr("height",(d,i)=>y(0)-y(lowerPct[i])).attr("fill",salmon);
const fmt=v=>v.toFixed(2)+"%";
const labelStyle=s=>s.attr("text-anchor","middle").attr("font-size",38.5).attr("fill","#1a1a1a").style("font-family","Liberation Sans");
chart.selectAll("text.el").data(provinces).join("text").attr("class","el").attr("x",d=>x(d)+x.bandwidth()/2)
  .attr("y",(d,i)=>y(lowerPct[i]+elevatedPct[i]/2)+18).call(labelStyle).text((d,i)=>fmt(elevatedPct[i]));
chart.selectAll("text.lo").data(provinces).join("text").attr("class","lo").attr("x",d=>x(d)+x.bandwidth()/2)
  .attr("y",(d,i)=>y(lowerPct[i]/2)+18).call(labelStyle).text((d,i)=>fmt(lowerPct[i]));
// axes
const xAxis=chart.append("g").attr("transform",`translate(0,${P.b})`).call(d3.axisBottom(x).tickSize(10).tickPadding(12));
const yAxis=chart.append("g").attr("transform",`translate(${P.l},0)`).call(d3.axisLeft(y).tickValues(yTicks).tickFormat(d=>d+"%").tickSize(10).tickPadding(12));
[xAxis,yAxis].forEach(a=>{a.select(".domain").remove();a.selectAll("line").attr("stroke","#333").attr("stroke-width",3);
  a.selectAll("text").attr("font-size",53).attr("fill","#4D4D4D").style("font-family","Liberation Serif");});
xAxis.selectAll("text").attr("dy",0).attr("y",62);
yAxis.selectAll("text").attr("dy",0).attr("y",19);
chart.append("text").attr("x",1455).attr("y",3789).attr("text-anchor","middle").attr("font-size",56).attr("fill","#000").text("provience");
chart.append("text").attr("transform","translate(119,3028) rotate(-90)").attr("text-anchor","middle").attr("font-size",61).attr("fill","#000").text("percent weight");
// bar legend
const keyY=d3.scaleBand(barLegend,[2988,3146]);
chart.selectAll("rect.key").data(barLegend).join("rect").attr("class","key").attr("x",2704).attr("y",d=>keyY(d)+3).attr("width",76).attr("height",keyY.bandwidth()-6).attr("fill",(d,i)=>i?salmon:teal);
chart.selectAll("text.key").data(barLegend).join("text").attr("class","key").attr("x",2807).attr("y",(d,i)=>keyY(d)+(i?61:58)).attr("font-size",55).attr("fill","#000").text(d=>d);
</script></body></html>
